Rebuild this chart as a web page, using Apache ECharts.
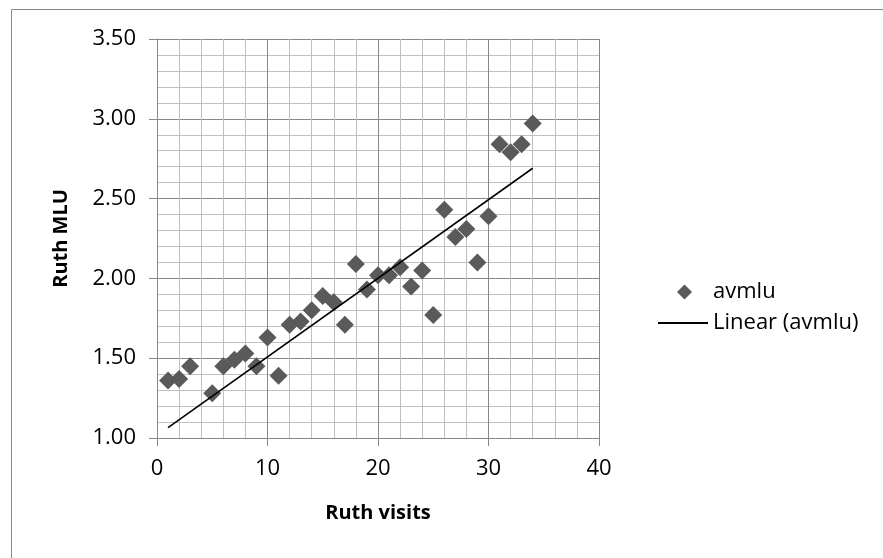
<!DOCTYPE html>
<html>
<head>
<meta charset="utf-8">
<script src="https://cdn.jsdelivr.net/npm/echarts@6/dist/echarts.min.js"></script>
<style>
  html, body { margin: 0; padding: 0; background: #fff; }
  #chart { width: 883px; height: 558px; }
</style>
</head>
<body>
<div id="chart"></div>
<script>
// Ruth: MLU por visita, con recta de tendencia lineal
const visits = [1, 2, 3, 5, 6, 7, 8, 9, 10, 11, 12, 13, 14, 15, 16, 17, 18, 19, 20, 21, 22, 23, 24, 25, 26, 27, 28, 29, 30, 31, 32, 33, 34];
const avmlu  = [1.36, 1.37, 1.45, 1.28, 1.45, 1.49, 1.53, 1.45, 1.63, 1.39, 1.71, 1.73, 1.80, 1.89, 1.85, 1.71, 2.09, 1.93, 2.02, 2.02, 2.07, 1.95, 2.05, 1.77, 2.43, 2.26, 2.31, 2.10, 2.39, 2.84, 2.79, 2.84, 2.97];
// extremos de la recta de tendencia
const trendX = [1, 34];
const trendY = [1.065, 2.69];
const seriesNames = ['avmlu', 'Linear (avmlu)'];

const FONT = 'Open Sans, sans-serif';
const TICK_SIZE = 22;

const chart = echarts.init(document.getElementById('chart'), null, { renderer: 'canvas' });

const majorLine = { lineStyle: { color: '#878787', width: 1 } };
const minorLine = { lineStyle: { color: '#c0c0c0', width: 1 } };

chart.setOption({
  backgroundColor: '#fff',
  animation: false,
  graphic: [{
    type: 'rect',
    shape: { x: 11.5, y: 9.5, width: 1000, height: 1000 },
    style: { fill: 'none', stroke: '#878787', lineWidth: 1 },
    z: -1,
  }],
  grid: { left: 157, right: 284, top: 39, bottom: 120 },
  legend: [
    {
      data: [seriesNames[0]],
      left: 672, top: 276,
      itemWidth: 15, itemHeight: 15,
      textStyle: { fontFamily: FONT, fontSize: TICK_SIZE, color: '#000', padding: [0, 0, 0, 16] },
    },
    {
      data: [{ name: seriesNames[1], icon: 'rect' }],
      left: 653, top: 307,
      itemWidth: 50, itemHeight: 2,
      textStyle: { fontFamily: FONT, fontSize: TICK_SIZE, color: '#000', padding: [0, 0, 0, 0] },
    },
  ],
  xAxis: {
    type: 'value',
    min: 0, max: 40, interval: 10,
    name: 'Ruth visits',
    nameLocation: 'middle',
    nameGap: 65,
    nameTextStyle: { fontFamily: FONT, fontSize: 20, fontWeight: 'bold', color: '#000' },
    axisLine: { show: true, onZero: false, lineStyle: { color: '#878787' } },
    axisTick: { show: true, length: 8, lineStyle: { color: '#878787' } },
    axisLabel: { fontFamily: FONT, fontSize: TICK_SIZE, color: '#000', margin: 20 },
    splitLine: { show: true, ...majorLine },
    minorTick: { show: false, splitNumber: 5 },
    minorSplitLine: { show: true, ...minorLine },
  },
  yAxis: {
    type: 'value',
    min: 1, max: 3.5, interval: 0.5,
    name: 'Ruth MLU',
    nameLocation: 'middle',
    nameGap: 86,
    nameTextStyle: { fontFamily: FONT, fontSize: 20, fontWeight: 'bold', color: '#000' },
    axisLine: { show: true, onZero: false, lineStyle: { color: '#878787' } },
    axisTick: { show: true, length: 8, lineStyle: { color: '#878787' } },
    axisLabel: { fontFamily: FONT, fontSize: TICK_SIZE, color: '#000', margin: 21, formatter: v => v.toFixed(2) },
    splitLine: { show: true, ...majorLine },
    minorTick: { show: false, splitNumber: 5 },
    minorSplitLine: { show: true, ...minorLine },
  },
  series: [
    {
      name: seriesNames[0],
      type: 'scatter',
      symbol: 'diamond',
      symbolSize: 18,
      itemStyle: { color: '#5a5a5a', opacity: 1 },
      data: visits.map((x, i) => [x, avmlu[i]]),
      z: 3,
    },
    {
      name: seriesNames[1],
      type: 'line',
      symbol: 'none',
      lineStyle: { color: '#000', width: 1.6 },
      itemStyle: { color: '#000' },
      data: trendX.map((x, i) => [x, trendY[i]]),
      z: 4,
    },
  ],
});
</script>
</body>
</html>
